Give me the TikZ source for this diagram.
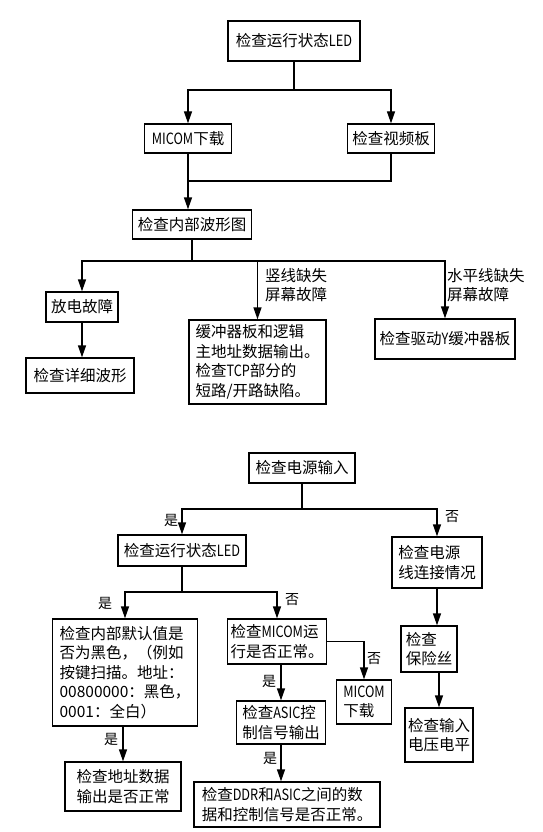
\documentclass[tikz,border=0pt]{standalone}
\usepackage{fontspec}
\setmainfont{Noto Sans CJK SC}
\newfontfamily\narrowlat{Noto Sans CJK SC}[FakeStretch=0.82]
\newcommand{\nlat}[1]{{\narrowlat #1}}
\usetikzlibrary{arrows.meta}

\begin{document}
\begin{tikzpicture}[
  x=1pt, y=-1pt,
  box/.style={rectangle, draw=black, line width=1.3pt, align=left, inner sep=3pt, font=\fontsize{15.5}{19.5}\selectfont},
  lbl/.style={align=left, inner sep=0pt, font=\fontsize{15.5}{19.5}\selectfont},
  yn/.style={inner sep=0pt, font=\fontsize{14}{16}\selectfont},
  arrow/.style={-{Triangle[length=12pt, width=8pt]}, line width=1.3pt},
  conn/.style={line width=1.3pt}
]
\useasboundingbox (0,0) rectangle (542,832);

% upper chart
\node[box, minimum width=132pt, minimum height=40pt] (led1) at (294,41) {检查运行状态\nlat{LED}};
\node[box, minimum width=87pt, minimum height=29pt] (micom1) at (188,138.5) {\nlat{MICOM}下载};
\node[box, minimum width=87pt, minimum height=29pt] (video) at (391,138.5) {检查视频板};
\node[box, minimum width=119pt, minimum height=29pt] (wave) at (192,224.5) {检查内部波形图};
\node[box, minimum width=72pt, minimum height=30pt] (disch) at (82,307) {放电故障};
\node[box, minimum width=108pt, minimum height=35pt] (detail) at (80,375.5) {检查详细波形};
\node[box, minimum width=137pt, minimum height=84pt] (buffer) at (257.5,362) {缓冲器板和逻辑\\主地址数据输出。\\检查\nlat{TCP}部分的\\短路/开路缺陷。};
\node[box, minimum width=140pt, minimum height=40pt] (ydrv) at (445,339) {检查驱动\nlat{Y}缓冲器板};
\node[lbl, anchor=west] (vmiss) at (265,285) {竖线缺失\\屏幕故障};
\node[lbl, anchor=west] (hmiss) at (447,285) {水平线缺失\\屏幕故障};

\coordinate (j1) at (294,90);
\coordinate (j2) at (188,181);
\coordinate (j3) at (192,261);

\draw[arrow] (led1.south) -- (j1) -| (micom1.north);
\draw[arrow] (j1) -| (video.north);
\draw[arrow] (micom1.south) -- (wave.north -| micom1.south);
\draw[conn] (video.south) |- (j2);
\draw[arrow] (wave.south) -- (j3) -| (disch.north);
\draw[arrow] (j3) -| (buffer.north);
\draw[arrow] (j3) -| (ydrv.north);
\draw[arrow] (disch.south) -- (detail.north -| disch.south);

% lower chart
\node[box, minimum width=106pt, minimum height=30pt] (power) at (302,468) {检查电源输入};
\node[box, minimum width=128pt, minimum height=31pt] (led2) at (182,550.5) {检查运行状态\nlat{LED}};
\node[box, minimum width=90pt, minimum height=51pt] (pwrline) at (437,562.5) {检查电源\\线连接情况};
\node[box, minimum width=145pt, minimum height=107pt] (dflt) at (125,672.5) {检查内部默认值是\\否为黑色，（例如\\按键扫描。地址：\\00800000：黑色，\\0001：全白）};
\node[box, minimum width=116pt, minimum height=49pt] (addr) at (123,786.5) {检查地址数据\\输出是否正常};
\node[box, minimum width=96pt, minimum height=45pt] (micomrun) at (277,641.5) {检查\nlat{MICOM}运\\行是否正常。};
\node[box, minimum width=55pt, minimum height=44pt] (micom2) at (364,702) {\nlat{MICOM}\\下载};
\node[box, minimum width=89pt, minimum height=43pt] (asic) at (281,722.5) {检查\nlat{ASIC}控\\制信号输出};
\node[box, minimum width=186pt, minimum height=45pt] (ddr) at (287,804.5) {检查\nlat{DDR}和\nlat{ASIC}之间的数\\据和控制信号是否正常。};
\node[box, minimum width=56pt, minimum height=46pt] (fuse) at (429,649) {检查\\保险丝};
\node[box, minimum width=68pt, minimum height=54pt] (vin) at (439,735) {检查输入\\电压电平};

\node[yn] (yes1) at (171,520) {是};
\node[yn] (no1) at (452,517) {否};
\node[yn] (yes2) at (105,603) {是};
\node[yn] (no2) at (292,600) {否};
\node[yn] (yes3) at (111,739) {是};
\node[yn] (no3) at (374,659) {否};
\node[yn] (yes4) at (269,681) {是};
\node[yn] (yes5) at (270,758) {是};

\coordinate (j4) at (302,509);
\coordinate (j5) at (182,592);

\draw[arrow] (power.south) -- (j4) -| (led2.north);
\draw[arrow] (j4) -| (pwrline.north);
\draw[arrow] (led2.south) -- (j5) -| (dflt.north);
\draw[arrow] (j5) -| (micomrun.north);
\draw[arrow] (dflt.south -| addr.north) -- (addr.north);
\draw[arrow] (micomrun.east) -| (micom2.north);
\draw[arrow] (micomrun.south -| asic.north) -- (asic.north);
\draw[arrow] (asic.south) -- (ddr.north -| asic.south);
\draw[arrow] (pwrline.south) -- (fuse.north -| pwrline.south);
\draw[arrow] (fuse.south -| vin.north) -- (vin.north);

\end{tikzpicture}
\end{document}
